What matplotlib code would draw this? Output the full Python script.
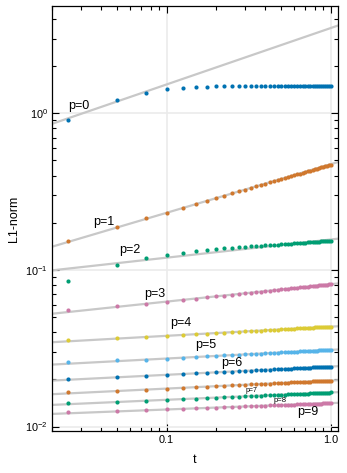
import numpy as np
import matplotlib
matplotlib.use("Agg")
import matplotlib.pyplot as plt
from matplotlib.ticker import LogLocator, NullFormatter, FixedLocator, FixedFormatter

plt.rcParams['font.family'] = ['Liberation Sans', 'DejaVu Sans']
plt.rcParams['mathtext.fontset'] = 'custom'
plt.rcParams['mathtext.rm'] = 'Liberation Sans'
plt.rcParams['mathtext.it'] = 'Liberation Sans:italic'

# ---------------- data ----------------
t = [0.025 * k for k in range(1, 41)]

p0 = [0.906, 1.216, 1.353, 1.420, 1.457, 1.470, 1.478, 1.483, 1.486, 1.488,
      1.489, 1.490, 1.491, 1.491, 1.492, 1.492, 1.492, 1.493, 1.493, 1.493,
      1.493, 1.493, 1.493, 1.493, 1.493, 1.493, 1.493, 1.493, 1.493, 1.493,
      1.493, 1.493, 1.493, 1.493, 1.493, 1.493, 1.493, 1.493, 1.493, 1.493]
p1 = [0.152, 0.188, 0.213, 0.232, 0.249, 0.263, 0.276, 0.287, 0.298, 0.308,
      0.317, 0.325, 0.333, 0.341, 0.348, 0.355, 0.362, 0.368, 0.374, 0.380,
      0.386, 0.391, 0.397, 0.402, 0.407, 0.412, 0.417, 0.421, 0.426, 0.430,
      0.435, 0.439, 0.443, 0.447, 0.451, 0.455, 0.459, 0.463, 0.466, 0.470]
p2 = [0.0849, 0.1080, 0.1186, 0.1245, 0.1288, 0.1318, 0.1340, 0.1357, 0.1370, 0.1382,
      0.1393, 0.1403, 0.1411, 0.1419, 0.1427, 0.1434, 0.1440, 0.1446, 0.1452, 0.1458,
      0.1463, 0.1468, 0.1473, 0.1478, 0.1482, 0.1486, 0.1490, 0.1494, 0.1498, 0.1502,
      0.1506, 0.1509, 0.1513, 0.1516, 0.1520, 0.1523, 0.1526, 0.1529, 0.1532, 0.1535]
p3 = [0.0554, 0.0590, 0.0606, 0.0620, 0.0643, 0.0656, 0.0668, 0.0677, 0.0686, 0.0695,
      0.0702, 0.0709, 0.0715, 0.0721, 0.0726, 0.0732, 0.0737, 0.0741, 0.0746, 0.0750,
      0.0754, 0.0758, 0.0762, 0.0765, 0.0769, 0.0772, 0.0775, 0.0778, 0.0781, 0.0784,
      0.0787, 0.0790, 0.0793, 0.0795, 0.0798, 0.0800, 0.0803, 0.0805, 0.0808, 0.0810]
p4 = [0.0358, 0.0367, 0.0373, 0.0378, 0.0385, 0.0389, 0.0392, 0.0395, 0.0398, 0.0400,
      0.0403, 0.0405, 0.0407, 0.0408, 0.0410, 0.0412, 0.0413, 0.0414, 0.0416, 0.0417,
      0.0418, 0.0419, 0.0420, 0.0421, 0.0423, 0.0424, 0.0424, 0.0425, 0.0426, 0.0427,
      0.0428, 0.0429, 0.0430, 0.0430, 0.0431, 0.0432, 0.0432, 0.0433, 0.0434, 0.0434]
p5 = [0.02580, 0.02640, 0.02673, 0.02716, 0.02750, 0.02778, 0.02801, 0.02822, 0.02841, 0.02857,
      0.02872, 0.02886, 0.02899, 0.02911, 0.02922, 0.02933, 0.02943, 0.02952, 0.02960, 0.02969,
      0.02977, 0.02984, 0.02992, 0.02999, 0.03006, 0.03013, 0.03019, 0.03025, 0.03031, 0.03036,
      0.03042, 0.03047, 0.03053, 0.03058, 0.03063, 0.03067, 0.03071, 0.03076, 0.03081, 0.03085]
p6 = [0.02010, 0.02062, 0.02106, 0.02130, 0.02163, 0.02184, 0.02202, 0.02218, 0.02232, 0.02244,
      0.02255, 0.02266, 0.02275, 0.02284, 0.02292, 0.02300, 0.02308, 0.02315, 0.02321, 0.02327,
      0.02333, 0.02339, 0.02345, 0.02350, 0.02355, 0.02360, 0.02365, 0.02369, 0.02373, 0.02378,
      0.02382, 0.02386, 0.02390, 0.02393, 0.02397, 0.02401, 0.02404, 0.02408, 0.02411, 0.02414]
p7 = [0.01650, 0.01690, 0.01721, 0.01746, 0.01766, 0.01783, 0.01797, 0.01809, 0.01820, 0.01830,
      0.01839, 0.01847, 0.01855, 0.01862, 0.01869, 0.01875, 0.01881, 0.01886, 0.01891, 0.01896,
      0.01901, 0.01906, 0.01910, 0.01914, 0.01918, 0.01922, 0.01926, 0.01929, 0.01933, 0.01936,
      0.01939, 0.01943, 0.01946, 0.01949, 0.01952, 0.01954, 0.01957, 0.01960, 0.01962, 0.01965]
p8 = [0.01410, 0.01440, 0.01461, 0.01481, 0.01497, 0.01509, 0.01520, 0.01530, 0.01538, 0.01546,
      0.01553, 0.01559, 0.01565, 0.01570, 0.01575, 0.01580, 0.01584, 0.01589, 0.01593, 0.01596,
      0.01600, 0.01604, 0.01607, 0.01610, 0.01613, 0.01616, 0.01619, 0.01622, 0.01624, 0.01627,
      0.01630, 0.01632, 0.01634, 0.01636, 0.01639, 0.01641, 0.01643, 0.01645, 0.01647, 0.01649]
p9 = [0.01230, 0.01249, 0.01269, 0.01284, 0.01296, 0.01306, 0.01314, 0.01321, 0.01327, 0.01333,
      0.01338, 0.01343, 0.01347, 0.01351, 0.01355, 0.01359, 0.01362, 0.01365, 0.01368, 0.01371,
      0.01373, 0.01376, 0.01379, 0.01381, 0.01383, 0.01386, 0.01388, 0.01390, 0.01392, 0.01394,
      0.01395, 0.01397, 0.01399, 0.01401, 0.01402, 0.01404, 0.01406, 0.01407, 0.01409, 0.01410]

series = [p0, p1, p2, p3, p4, p5, p6, p7, p8, p9]
labels = ["p=0", "p=1", "p=2", "p=3", "p=4", "p=5", "p=6", "p=7", "p=8", "p=9"]

# reference power-law fits: value at t=1 and exponent
fit_coef = [3.50, 0.4727, 0.1563, 0.0810, 0.0434, 0.03085, 0.02414, 0.01965, 0.01649, 0.01410]
fit_expo = [0.360, 0.310, 0.116, 0.111, 0.0585, 0.0553, 0.0527, 0.0513, 0.0467, 0.0406]

x_ticks = [0.1, 1.0]
x_tick_labels = ["0.1", "1.0"]
y_ticks = [0.01, 0.1, 1.0]
y_tick_labels = [r"$10^{-2}$", r"$10^{-1}$", r"$10^{0}$"]

# ---------------- styles ----------------
colors = ["#0072B2", "#D0782E", "#009E73", "#CC79A7", "#DCCB35",
          "#56B4E9", "#0072B2", "#D0782E", "#009E73", "#CC79A7"]
label_pos = [(0.0292, 1.113), (0.0415, 0.2022), (0.0597, 0.134), (0.0849, 0.0702),
             (0.1223, 0.0458), (0.1736, 0.0332), (0.250, 0.02543), (0.331, 0.0171),
             (0.491, 0.01476), (0.727, 0.01238)]
label_size = [9, 9, 9, 9, 9, 9, 9, 5, 5.5, 9]

fig = plt.figure(figsize=(3.47, 4.73), dpi=100)
ax = fig.add_axes([52/347, 1 - 431/473, (338 - 52)/347, (431 - 6)/473])
ax.set_xscale('log')
ax.set_yscale('log')
ax.set_xlim(0.0200, 1.108)
ax.set_ylim(0.00936, 4.84)

t_line = np.geomspace(0.015, 1.5, 200)
for c, a in zip(fit_coef, fit_expo):
    ax.plot(t_line, c * t_line ** a, color="#c8c8c8", lw=1.6, zorder=2,
            solid_capstyle='butt')

for ys, col in zip(series, colors):
    ax.plot(t, ys, 'o', color=col, ms=3.0, mec='none', zorder=3)

for lab, (lx, ly), fs in zip(labels, label_pos, label_size):
    ax.text(lx, ly, lab, fontsize=fs, ha='center', va='center', zorder=4)

ax.xaxis.set_major_locator(FixedLocator(x_ticks))
ax.xaxis.set_major_formatter(FixedFormatter(x_tick_labels))
ax.xaxis.set_minor_locator(LogLocator(base=10, subs=np.arange(2, 10), numticks=20))
ax.xaxis.set_minor_formatter(NullFormatter())
ax.yaxis.set_major_locator(FixedLocator(y_ticks))
ax.yaxis.set_major_formatter(FixedFormatter(y_tick_labels))
ax.yaxis.set_minor_locator(LogLocator(base=10, subs=np.arange(2, 10), numticks=20))
ax.yaxis.set_minor_formatter(NullFormatter())

ax.tick_params(which='both', direction='in', top=True, right=True, color='black',
               labelsize=7.8, width=0.8)
ax.tick_params(which='major', length=5, pad=3)
ax.tick_params(which='minor', length=3)

ax.grid(True, which='major', color='#ebebeb', lw=1.2, zorder=0)
ax.set_axisbelow(True)
for s in ax.spines.values():
    s.set_linewidth(0.9)
    s.set_color('black')

ax.set_xlabel("t", fontsize=9, labelpad=6)
ax.set_ylabel("L1-norm", fontsize=9, labelpad=4)

fig.savefig("out.png", dpi=100)
